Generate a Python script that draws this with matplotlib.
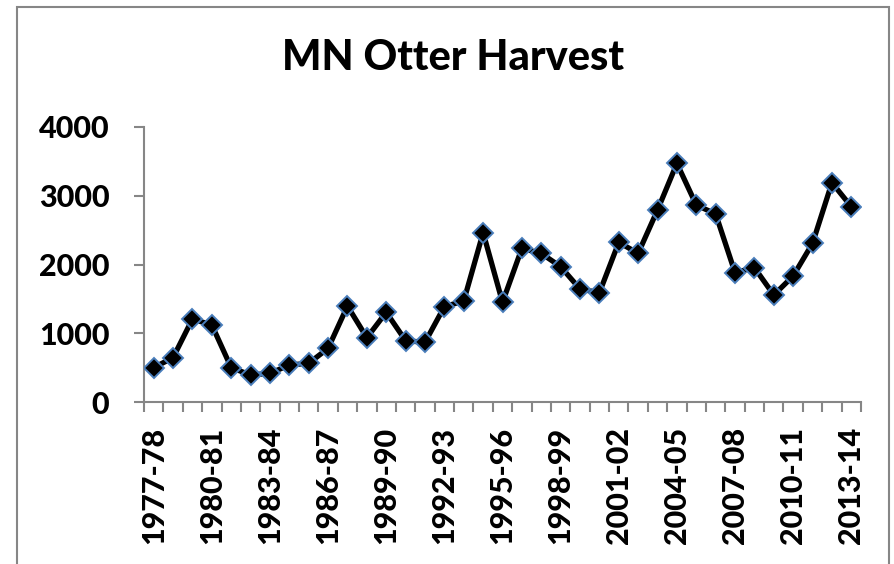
import matplotlib
matplotlib.use("Agg")
import matplotlib.pyplot as plt
from matplotlib.patches import Rectangle

seasons = ["1977-78", "1978-79", "1979-80", "1980-81", "1981-82", "1982-83", "1983-84",
           "1984-85", "1985-86", "1986-87", "1987-88", "1988-89", "1989-90", "1990-91",
           "1991-92", "1992-93", "1993-94", "1994-95", "1995-96", "1996-97", "1997-98",
           "1998-99", "1999-00", "2000-01", "2001-02", "2002-03", "2003-04", "2004-05",
           "2005-06", "2006-07", "2007-08", "2008-09", "2009-10", "2010-11", "2011-12",
           "2012-13", "2013-14"]
harvest = [500, 645, 1207, 1120, 500, 393, 417, 538, 563, 781, 1396, 935, 1305, 892,
           868, 1387, 1469, 2463, 1450, 2235, 2162, 1968, 1644, 1590, 2322, 2162, 2793,
           3471, 2865, 2735, 1881, 1954, 1556, 1833, 2308, 3190, 2841]
y_ticks = [0, 1000, 2000, 3000, 4000]
title = "MN Otter Harvest"

W, H = 894, 564
fig = plt.figure(figsize=(W / 100, H / 100), dpi=100)
fig.patch.set_facecolor("white")

# outer chart border
fig.add_artist(Rectangle((17 / W, -0.05), (889 - 17) / W, 1.05 - 7 / H,
                         transform=fig.transFigure, fill=False,
                         edgecolor="#868686", linewidth=1.5))

ax = fig.add_axes([144 / W, 1 - 402 / H, (861 - 144) / W, (402 - 127) / H])
x = list(range(len(seasons)))
ax.plot(x, harvest, color="black", linewidth=3.8, marker="D", markersize=10.5,
        markerfacecolor="black", markeredgecolor="#4a7ebb", markeredgewidth=1.4,
        solid_joinstyle="round", zorder=3)

ax.set_xlim(-0.5, len(seasons) - 0.5)
ax.set_ylim(0, 4000)
for s in ["top", "right"]:
    ax.spines[s].set_visible(False)
for s in ["left", "bottom"]:
    ax.spines[s].set_color("#868686")
    ax.spines[s].set_linewidth(1.5)

font = ["Lato", "DejaVu Sans"]
ax.set_yticks(y_ticks)
ax.set_yticklabels([str(v) for v in y_ticks], fontsize=22, fontweight="black", family=font)
ax.set_xticks([i - 0.5 for i in range(len(seasons) + 1)])
ax.set_xticklabels([])
ax.tick_params(axis="both", direction="out", color="#868686", width=1.5, length=7)
ax.tick_params(axis="y", pad=18)

for i in range(0, len(seasons), 3):
    ax.text(i, -0.09, seasons[i], transform=ax.get_xaxis_transform(),
            rotation=90, ha="center", va="top", fontsize=22, fontweight="black",
            family=font)

fig.text(453 / W, 1 - 58 / H, title, ha="center", va="center", fontsize=30,
         fontweight="black", family=font)

fig.savefig("out.png", dpi=100)
